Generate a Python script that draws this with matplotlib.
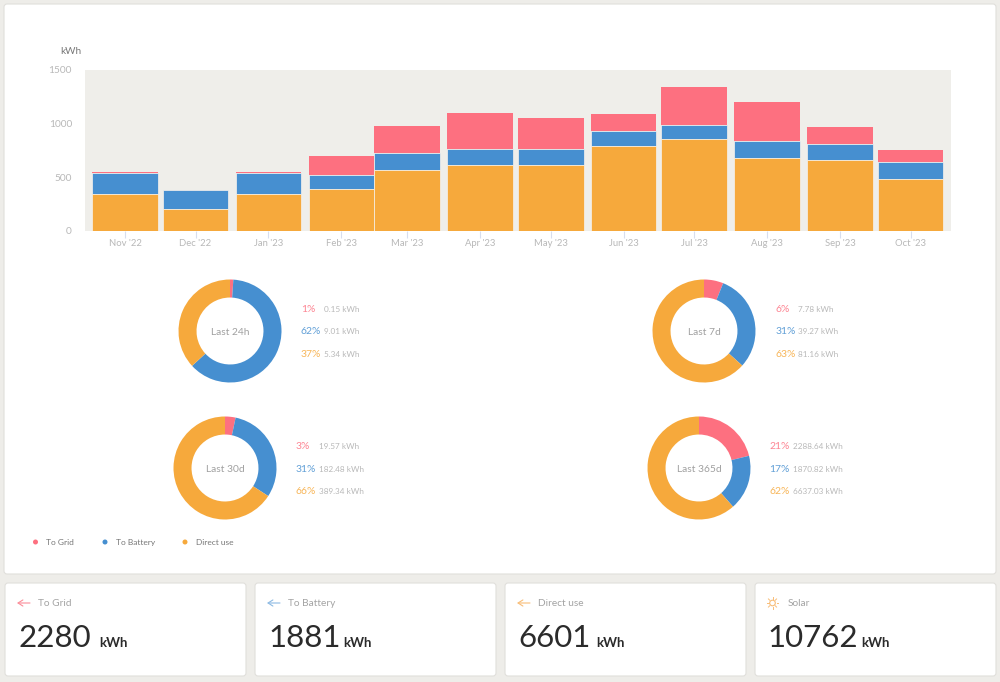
import datetime as dt
import matplotlib
matplotlib.use('Agg')
import matplotlib.pyplot as plt
import matplotlib.dates as mdates
from matplotlib.patches import FancyBboxPatch, Circle

plt.rcParams['font.family'] = ['Lato', 'DejaVu Sans']

# data
months = [dt.date(2022, 11, 1), dt.date(2022, 12, 1), dt.date(2023, 1, 1), dt.date(2023, 2, 1),
          dt.date(2023, 3, 1), dt.date(2023, 4, 1), dt.date(2023, 5, 1), dt.date(2023, 6, 1),
          dt.date(2023, 7, 1), dt.date(2023, 8, 1), dt.date(2023, 9, 1), dt.date(2023, 10, 1)]
month_labels = ["Nov '22", "Dec '22", "Jan '23", "Feb '23", "Mar '23", "Apr '23",
                "May '23", "Jun '23", "Jul '23", "Aug '23", "Sep '23", "Oct '23"]
direct_use = [348, 202, 348, 388, 568, 618, 612, 792, 857, 680, 658, 481]
to_battery = [189, 180, 189, 134, 162, 143, 149, 137, 128, 162, 153, 162]
to_grid = [13, 0, 13, 174, 251, 339, 292, 164, 354, 357, 155, 115]

donut_names = ['Last 24h', 'Last 7d', 'Last 30d', 'Last 365d']
donut_kwh = [[0.15, 9.01, 5.34], [7.78, 39.27, 81.16], [19.57, 182.48, 389.34], [2288.64, 1870.82, 6637.03]]
donut_pct = [[1, 62, 37], [6, 31, 63], [3, 31, 66], [21, 17, 62]]

card_names = ['To Grid', 'To Battery', 'Direct use', 'Solar']
card_values = [2280, 1881, 6601, 10762]

RED = '#fd7080'
BLUE = '#468fd0'
ORANGE = '#f6a93c'
PAGE = '#eeede9'
GREY = '#b8b8b8'
W, H = 1000, 682


def box(x0, y0, x1, y1):
    # pixel box -> figure fractions
    return [x0 / W, 1 - y1 / H, (x1 - x0) / W, (y1 - y0) / H]


fig = plt.figure(figsize=(10, 6.82), dpi=100, facecolor=PAGE)

# page layer in pixel coordinates
bg = fig.add_axes([0, 0, 1, 1], zorder=0)
bg.set_xlim(0, W)
bg.set_ylim(H, 0)
bg.axis('off')


def card(x0, y0, x1, y1):
    bg.add_patch(FancyBboxPatch((x0, y0), x1 - x0, y1 - y0, boxstyle='round,pad=0,rounding_size=3',
                                fc='white', ec='#e0dfdb', lw=0.8))


card(4, 4, 996, 574)
card_x = [(5, 246), (255, 496), (505, 746), (755, 996)]
for c in card_x:
    card(c[0], 583, c[1], 676)

# bar chart
ax = fig.add_axes(box(85, 70, 951, 231), zorder=1)
ax.set_facecolor('#efeeea')
bottom2 = [a + b for a, b in zip(direct_use, to_battery)]
edge = dict(edgecolor='#f6f3ee', linewidth=0.5)
ax.bar(months, to_grid, width=27.9, bottom=bottom2, color=RED, edgecolor='none')
ax.bar(months, to_battery, width=27.9, bottom=direct_use, color=BLUE, **edge)
ax.bar(months, direct_use, width=27.9, color=ORANGE, **edge)
ax.set_ylim(0, 1500)
ax.set_xlim(mdates.date2num(months[0]) - 17, mdates.date2num(months[0]) + 351.2)
ax.set_yticks([0, 500, 1000, 1500])
ax.set_xticks(mdates.date2num(months))
ax.set_xticklabels(month_labels)
ax.tick_params(axis='y', length=0, pad=9.4, labelsize=7.3, labelcolor=GREY)
ax.tick_params(axis='x', length=5, width=0.8, color='#d8deee', pad=0.6, labelsize=6.8, labelcolor=GREY)
for s in ax.spines.values():
    s.set_visible(False)
bg.text(60, 51, 'kWh', fontsize=7.2, color='#777777', va='center', ha='left')

# donuts
centers = [(230, 331), (704, 331), (225, 468), (699, 468)]
pct_x = [300.7, 775.3, 295.7, 769]
kwh_x = [323.7, 798.3, 319, 792.7]
colors = [RED, BLUE, ORANGE]
radius = 51.5
for i in range(4):
    cx, cy = centers[i]
    a = fig.add_axes(box(cx - radius, cy - radius, cx + radius, cy + radius), zorder=1)
    a.pie(donut_kwh[i], colors=colors, startangle=90, counterclock=False, radius=1,
          wedgeprops=dict(width=0.35, linewidth=0))
    a.set_xlim(-1, 1)
    a.set_ylim(-1, 1)
    a.text(0, -0.03, donut_names[i], ha='center', va='center', fontsize=7.4, color='#a0a0a0')
    for j in range(3):
        y = cy - 21.5 + j * 22.5
        bg.text(pct_x[i], y, f'{donut_pct[i][j]}%', color=colors[j], fontsize=7.5, va='center', alpha=0.85)
        bg.text(kwh_x[i], y, f'{donut_kwh[i][j]:.2f} kWh', color=GREY, fontsize=5.9, va='center')

# legend
legend_names = ['To Grid', 'To Battery', 'Direct use']
legend_dot = [35.5, 105, 185]
legend_text = [46, 115.5, 196]
for name, dx, tx, col in zip(legend_names, legend_dot, legend_text, colors):
    bg.add_patch(Circle((dx, 542), 2.5, fc=col, ec='none'))
    bg.text(tx, 542.5, name, fontsize=6, color='#777777', va='center')

# cards at the bottom
card_colors = ['#fb8d99', '#8dbae3', '#f8bd78', '#f8bd78']
num_x = [18, 268, 518, 767]
unit_x = [99, 343, 596.5, 861.5]
label_x = [38, 288, 538, 788]
for i in range(4):
    x = num_x[i]
    if i < 3:
        bg.annotate('', xy=(x - 1, 603), xytext=(x + 12, 603),
                    arrowprops=dict(arrowstyle='->,head_length=0.35,head_width=0.22', color=card_colors[i], lw=0.8,
                                    shrinkA=0, shrinkB=0))
    else:
        sx, sy = x + 5.5, 603
        bg.add_patch(Circle((sx, sy), 2.8, fc='none', ec=card_colors[i], lw=0.8))
        for dx, dy in [(1, 0), (-1, 0), (0, 1), (0, -1), (.7, .7), (-.7, .7), (.7, -.7), (-.7, -.7)]:
            bg.plot([sx + 4 * dx, sx + 5.8 * dx], [sy + 4 * dy, sy + 5.8 * dy], color=card_colors[i], lw=0.7)
    bg.text(label_x[i], 603.5, card_names[i], fontsize=7.3, color='#a3a3a3', va='center')
    bg.text(x, 647, str(card_values[i]), fontsize=22.5, color='#2b2b2b', va='baseline')
    bg.text(unit_x[i], 647, 'kWh', fontsize=9.5, color='#2b2b2b', va='baseline', fontweight='bold')

fig.savefig('out.png', dpi=100, facecolor=PAGE)
